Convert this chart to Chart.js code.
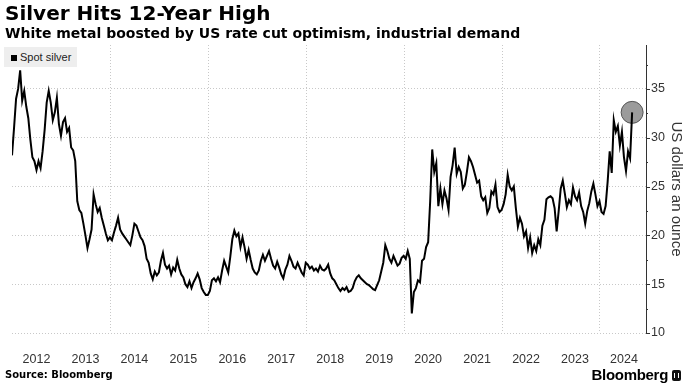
<!DOCTYPE html>
<html>
<head>
<meta charset="utf-8">
<script src="https://cdn.jsdelivr.net/npm/chart.js@4.4.1/dist/chart.umd.min.js"></script>
<style>
    body { margin: 0; background: #fff; }
    #wrap { position: relative; width: 693px; height: 388px; overflow: hidden; font-family: "DejaVu Sans", sans-serif; color: #000; }
    #chartSilver { position: absolute; left: 0; top: 0; }
    .title { position: absolute; left: 5px; top: 1px; font-size: 20px; font-weight: bold; white-space: nowrap; }
    .subtitle { position: absolute; left: 5px; top: 25px; font-size: 14px; font-weight: bold; white-space: nowrap; }
    .legend { position: absolute; left: 4px; top: 47px; height: 20px; padding: 0 6px 0 7px; background: #eeeeee; font-family: "Liberation Sans", sans-serif; font-size: 11px; line-height: 20px; color: #222; }
    .legend i { display: inline-block; width: 6px; height: 6px; background: #000; margin-right: 3px; vertical-align: 0; }
    .source { position: absolute; left: 5px; top: 369px; font-size: 10px; font-weight: bold; }
    .logo { position: absolute; right: 12px; top: 366px; font-family: "Liberation Sans", sans-serif; font-size: 15px; font-weight: bold; letter-spacing: -0.3px; }
    .logo b { display: inline-block; width: 9px; height: 11px; background: #111; border-radius: 2px; margin-left: 4px; vertical-align: -1px; position: relative; }
    .logo b::after { content: ""; position: absolute; left: 2px; top: 3px; width: 5px; height: 5px; border-left: 1px solid #fff; border-right: 1px solid #fff; box-sizing: border-box; }
</style>
</head>
<body>
<div id="wrap">
    <canvas id="chartSilver" width="693" height="388"></canvas>
    <div class="title">Silver Hits 12-Year High</div>
    <div class="subtitle">White metal boosted by US rate cut optimism, industrial demand</div>
    <div class="legend"><i></i>Spot silver</div>
    <div class="source">Source: Bloomberg</div>
    <div class="logo">Bloomberg<b></b></div>
</div>
<script>
// spot silver, USD/oz, two readings a month starting Jan 2012
const startYear = 2012;
const pointsPerYear = 24;
const spotSilver = [
    // 2012
    28.2, 31.0, 34.0, 35.0, 36.9, 33.8, 34.8, 33.2, 32.0, 29.8, 28.0, 27.6,
    26.7, 27.6, 26.9, 28.6, 30.8, 33.6, 34.8, 33.6, 31.8, 32.6, 34.1, 31.4,
    // 2013
    30.2, 31.6, 32.0, 30.6, 31.0, 29.0, 28.7, 27.6, 23.5, 22.6, 22.3, 21.2,
    20.0, 18.7, 19.6, 20.6, 24.2, 23.2, 22.4, 22.8, 21.8, 21.0, 20.2, 19.5,
    // 2014
    19.8, 19.5, 20.3, 21.0, 21.8, 20.6, 20.2, 19.9, 19.6, 19.3, 19.0, 20.0,
    21.2, 21.0, 20.4, 19.8, 19.5, 18.9, 17.6, 17.2, 16.1, 15.5, 16.3, 15.9,
    // 2015
    16.2, 17.4, 18.2, 17.0, 16.6, 16.9, 16.0, 16.7, 16.4, 17.5, 16.6, 16.0,
    15.7, 15.0, 14.7, 15.3, 14.6, 15.2, 15.6, 16.1, 15.5, 14.6, 14.2, 13.9,
    // 2016
    13.9, 14.3, 15.4, 15.6, 15.3, 15.7, 15.2, 16.4, 17.4, 16.8, 16.2, 17.8,
    19.6, 20.5, 19.9, 20.2, 18.8, 19.8, 18.8, 17.6, 18.5, 17.5, 16.6, 16.2,
    // 2017
    16.0, 16.4, 17.4, 18.0, 17.4, 17.9, 18.4, 17.6, 16.9, 16.6, 17.3, 16.7,
    16.0, 15.6, 16.5, 17.0, 17.9, 17.4, 16.8, 16.6, 17.2, 16.7, 16.2, 15.9,
    // 2018
    17.2, 17.0, 16.6, 16.8, 16.4, 16.6, 16.3, 16.9, 16.5, 16.4, 16.6, 17.0,
    16.1, 15.6, 15.4, 15.0, 14.6, 14.3, 14.6, 14.4, 14.7, 14.2, 14.3, 14.6,
    // 2019
    15.3, 15.7, 15.9, 15.6, 15.4, 15.2, 15.0, 14.9, 14.7, 14.5, 14.4, 14.9,
    15.4, 16.3, 17.2, 19.0, 18.4, 17.6, 17.2, 17.9, 17.4, 16.9, 17.1, 17.7,
    // 2020
    17.9, 17.6, 18.4, 17.6, 12.0, 14.2, 14.6, 15.4, 15.2, 17.4, 17.6, 18.8,
    19.3, 23.5, 28.8, 26.5, 27.4, 23.0, 24.8, 23.2, 24.6, 23.8, 22.6, 26.0,
    // 2021
    27.2, 29.0, 26.3, 27.0, 26.5, 24.8, 25.2, 26.5, 28.0, 27.6, 27.0, 26.2,
    25.4, 25.6, 24.0, 23.6, 23.9, 22.3, 22.8, 24.5, 24.2, 25.2, 22.9, 22.4,
    // 2022
    22.6, 23.2, 24.2, 26.2, 25.0, 24.6, 25.0, 22.8, 20.9, 21.8, 21.2, 19.9,
    20.4, 18.7, 19.8, 18.2, 19.0, 18.4, 19.6, 19.0, 21.0, 21.6, 23.7, 23.9,
    // 2023
    24.0, 23.8, 22.8, 20.4, 22.5, 24.8, 25.6, 24.3, 22.9, 23.6, 23.2, 24.9,
    24.0, 23.6, 24.4, 23.0, 22.4, 21.2, 22.5, 23.3, 24.5, 25.3, 24.2, 23.0,
    // 2024
    23.5, 22.4, 22.2, 23.0, 25.5, 28.6, 26.4, 31.8, 30.6, 31.2, 29.2, 30.6,
    28.0, 26.6, 28.6, 27.9, 32.6
];
const yearLabels = [2012, 2013, 2014, 2015, 2016, 2017, 2018, 2019, 2020, 2021, 2022, 2023, 2024];
const gridYears = [2014, 2016, 2018, 2020, 2022, 2024];
const yTicks = [10, 15, 20, 25, 30, 35];
const yMinorTicks = [12.5, 17.5, 22.5, 27.5, 32.5, 37.5];

const silverPoints = spotSilver.map((v, i) => ({ x: startYear + i / pointsPerYear, y: v }));
const lastPoint = silverPoints[silverPoints.length - 1];

// dotted vertical grid every two years + tick marks on the right axis
const axisExtras = {
    id: 'axisExtras',
    beforeDatasetsDraw(chart) {
        const { ctx, chartArea, scales } = chart;
        ctx.save();
        ctx.strokeStyle = '#c8c8c8';
        ctx.lineWidth = 1;
        ctx.setLineDash([1, 2]);
        gridYears.forEach(yr => {
            const x = Math.round(scales.x.getPixelForValue(yr)) + 0.5;
            ctx.beginPath();
            ctx.moveTo(x, chartArea.top);
            ctx.lineTo(x, chartArea.bottom);
            ctx.stroke();
        });
        ctx.restore();
    },
    afterDraw(chart) {
        const { ctx, chartArea, scales } = chart;
        const x0 = chartArea.right;
        ctx.save();
        ctx.strokeStyle = '#333';
        ctx.lineWidth = 1;
        const tick = (v, len) => {
            const y = Math.round(scales.y.getPixelForValue(v)) + 0.5;
            ctx.beginPath();
            ctx.moveTo(x0, y);
            ctx.lineTo(x0 + len, y);
            ctx.stroke();
        };
        yTicks.forEach(v => tick(v, 4));
        yMinorTicks.forEach(v => tick(v, 2));
        ctx.restore();
    }
};

const ctxSilver = document.getElementById('chartSilver');
new Chart(ctxSilver, {
    type: 'line',
    data: {
        datasets: [
            {
                label: 'Spot silver',
                data: silverPoints,
                borderColor: '#000',
                borderWidth: 2,
                pointRadius: 0,
                tension: 0
            },
            {
                label: 'marker',
                data: [lastPoint],
                showLine: false,
                pointRadius: 11,
                pointBackgroundColor: 'rgba(150,150,150,0.95)',
                pointBorderColor: '#555',
                pointBorderWidth: 1
            }
        ]
    },
    options: {
        responsive: false,
        animation: false,
        events: [],
        layout: {
            padding: { top: 45, left: 3, right: 0, bottom: 0 }
        },
        plugins: {
            legend: { display: false },
            tooltip: { enabled: false }
        },
        scales: {
            x: {
                type: 'linear',
                min: 2012,
                max: 2024.95,
                afterBuildTicks: scale => {
                    scale.ticks = yearLabels.map(y => ({ value: y + 0.5 }));
                },
                afterFit: scale => { scale.height = 55; },
                grid: { display: false, drawTicks: false },
                border: { display: false },
                ticks: {
                    autoSkip: false,
                    maxRotation: 0,
                    padding: 19,
                    color: '#333',
                    font: { family: 'Liberation Sans', size: 12.5 },
                    callback: v => String(Math.floor(v))
                }
            },
            y: {
                position: 'right',
                min: 10,
                max: 39.5,
                afterFit: scale => { scale.width = 47; },
                grid: {
                    color: '#c8c8c8',
                    drawTicks: false
                },
                border: { display: true, color: '#333', width: 1, dash: [1, 2] },
                ticks: {
                    stepSize: 5,
                    includeBounds: false,
                    padding: 5,
                    color: '#333',
                    font: { family: 'Liberation Sans', size: 12.5 }
                },
                title: {
                    display: true,
                    text: 'US dollars an ounce',
                    color: '#333',
                    font: { family: 'Liberation Sans', size: 15 },
                    padding: { top: 8, bottom: 0 }
                }
            }
        }
    },
    plugins: [axisExtras]
});
</script>
</body>
</html>
